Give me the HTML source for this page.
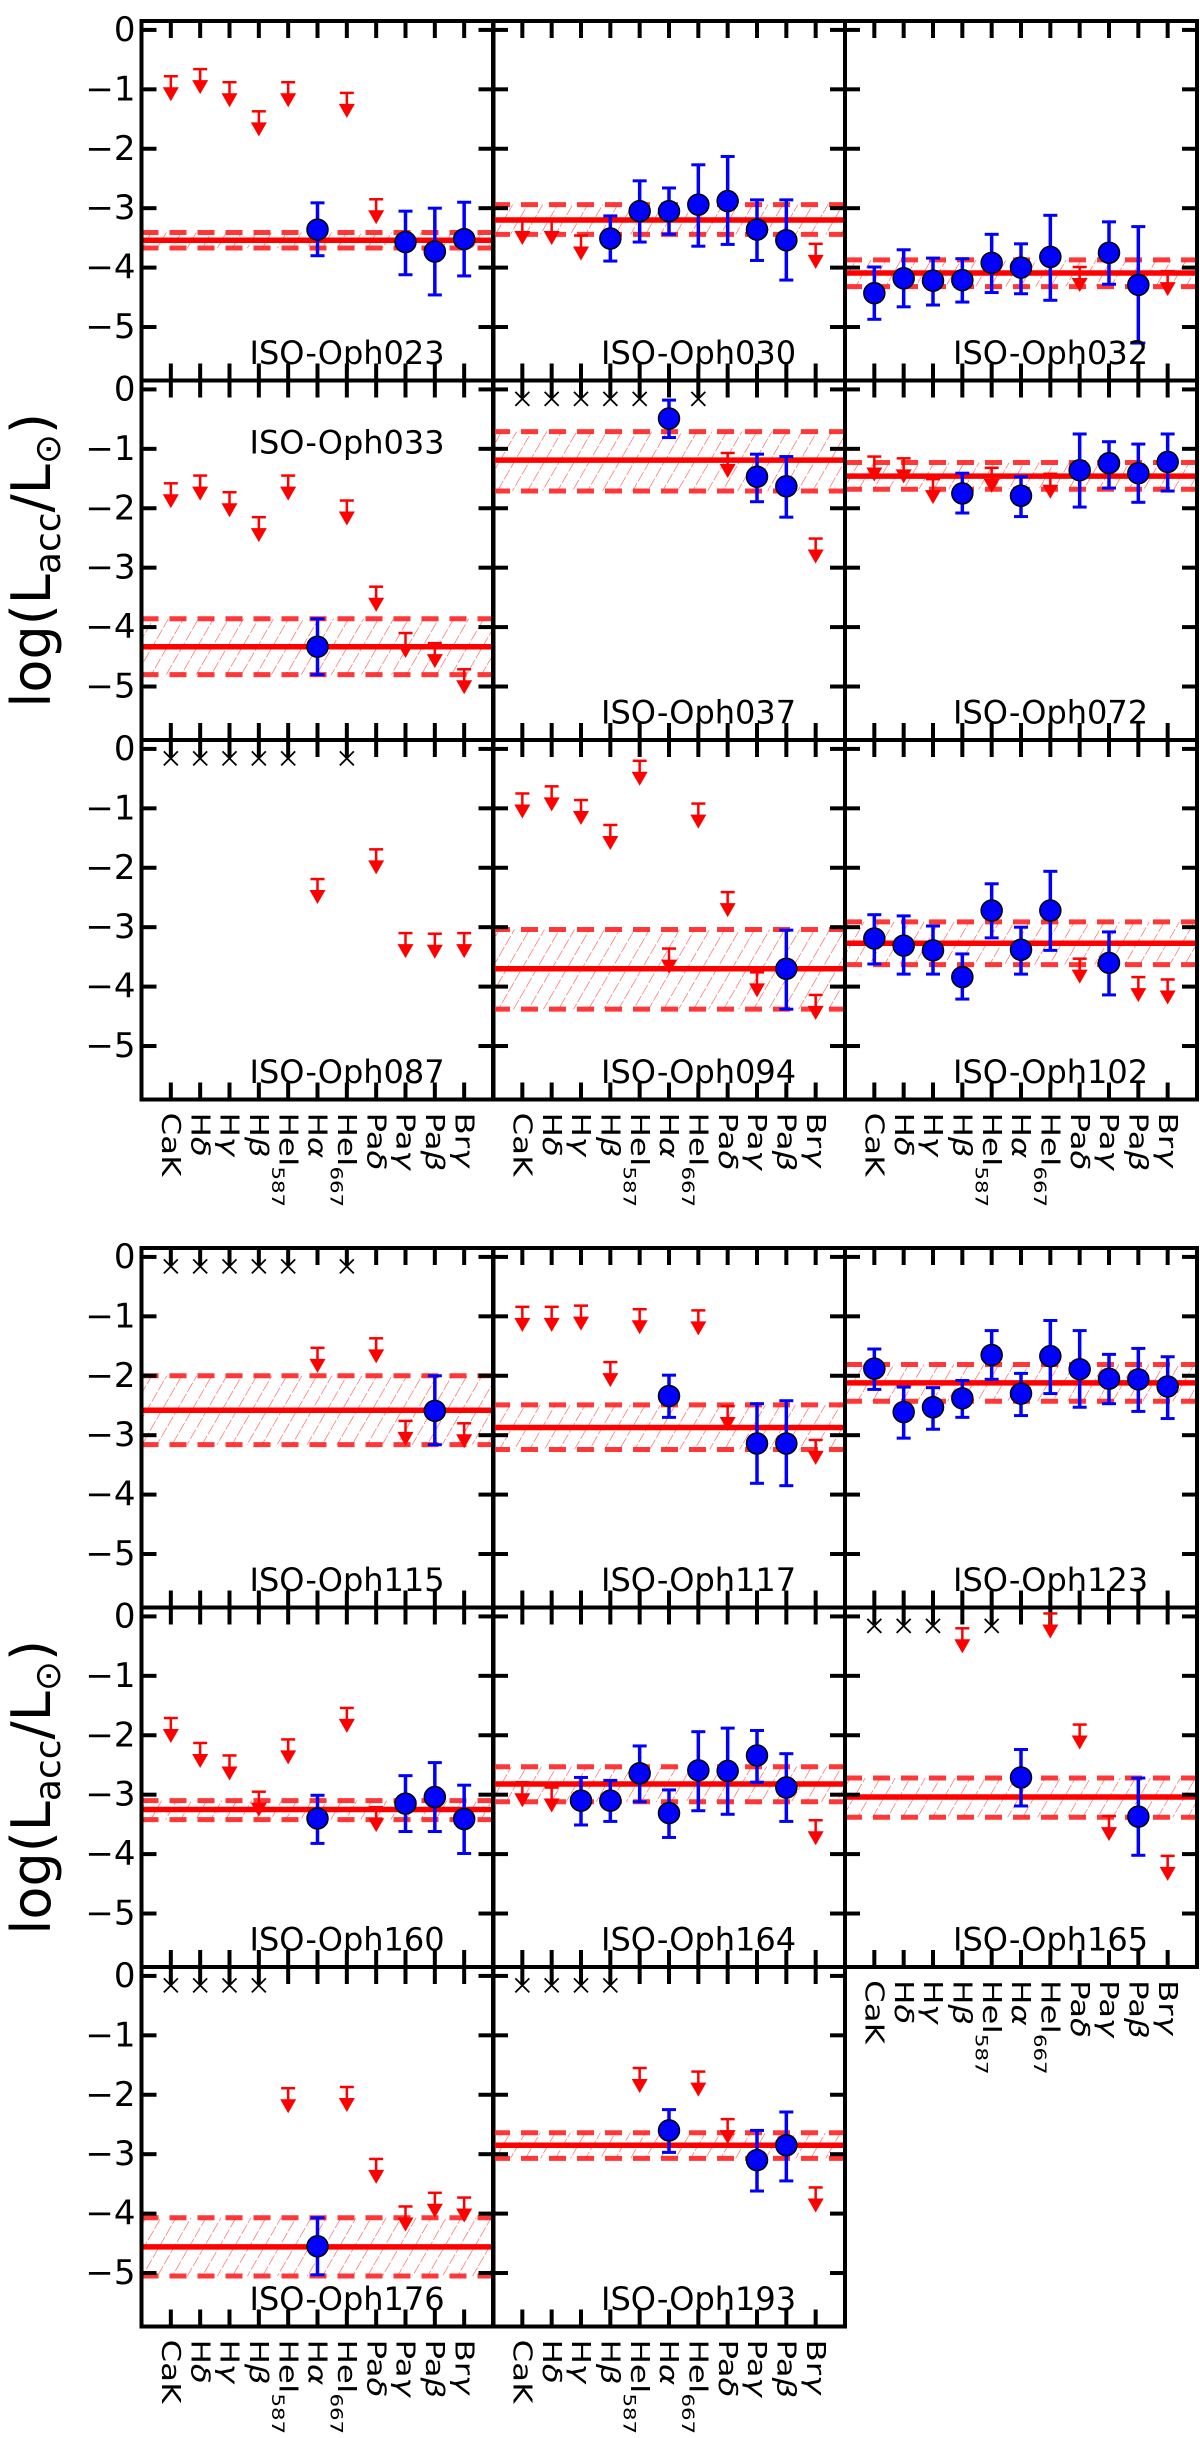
<!DOCTYPE html>
<html><head><meta charset="utf-8">
<style>
html,body{margin:0;padding:0;background:#fff;}
svg{display:block;font-family:"DejaVu Sans","Liberation Sans",sans-serif;}
</style></head>
<body>
<svg id="fig" width="1200" height="2438" viewBox="0 0 1200 2438" xmlns="http://www.w3.org/2000/svg">
<defs>
<pattern id="hatch" patternUnits="userSpaceOnUse" width="13" height="13" patternTransform="rotate(30)">
<line x1="0" y1="0" x2="0" y2="13" stroke="#ff2020" stroke-width="1.1" stroke-dasharray="7,2" opacity="0.85"/>
</pattern>
</defs>
</svg>
<script>
// ---- data ----
const categories = ["CaK","Hδ","Hγ","Hβ","HeI587","Hα","HeI667","Paδ","Paγ","Paβ","Brγ"];
const panelNames = ["ISO-Oph023","ISO-Oph030","ISO-Oph032","ISO-Oph033","ISO-Oph037","ISO-Oph072","ISO-Oph087","ISO-Oph094","ISO-Oph102","ISO-Oph115","ISO-Oph117","ISO-Oph123","ISO-Oph160","ISO-Oph164","ISO-Oph165","ISO-Oph176","ISO-Oph193"];
// point types per panel: d = detection, u = upper limit, x = cross (no data)
const pointTypes = [
 "uuuuuduuddd","uuudddddddu","ddddddduddu","uuuuuduuuuu","xxxxxdxuddu","uuudududddd",
 "xxxxxuxuuuu","uuuuuuuuudu","ddddddduduu","xxxxxuxuudu","uuuuuduuddu","ddddddddddd",
 "uuuuuduuddd","uuddddddddu","xxxuxduuudu","xxxxuduuuuu","xxxxuduuddu"
];
const pointValues = [
 [-0.78,-0.66,-0.88,-1.37,-0.88,-3.36,-1.06,-2.85,-3.57,-3.73,-3.52],
 [-3.2,-3.2,-3.46,-3.51,-3.05,-3.05,-2.94,-2.88,-3.36,-3.54,-3.6],
 [-4.43,-4.18,-4.22,-4.21,-3.92,-4.0,-3.82,-3.99,-3.75,-4.29,-4.06],
 [-1.58,-1.45,-1.73,-2.15,-1.45,-4.33,-1.87,-3.32,-4.1,-4.27,-4.71],
 [-0.16,-0.16,-0.16,-0.16,-0.16,-0.49,-0.16,-1.07,-1.47,-1.63,-2.51],
 [-1.13,-1.16,-1.51,-1.75,-1.32,-1.79,-1.42,-1.36,-1.24,-1.41,-1.22],
 [-0.16,-0.16,-0.16,-0.16,-0.16,-2.19,-0.16,-1.69,-3.1,-3.11,-3.1],
 [-0.75,-0.63,-0.86,-1.28,-0.2,-3.36,-0.92,-2.41,-3.76,-3.7,-4.14],
 [-3.19,-3.31,-3.39,-3.84,-2.72,-3.38,-2.72,-3.53,-3.6,-3.84,-3.88],
 [-0.16,-0.16,-0.16,-0.16,-0.16,-1.53,-0.16,-1.37,-2.76,-2.59,-2.8],
 [-0.84,-0.84,-0.82,-1.77,-0.88,-2.34,-0.9,-2.51,-3.14,-3.14,-3.08],
 [-1.88,-2.61,-2.53,-2.38,-1.65,-2.3,-1.67,-1.89,-2.05,-2.06,-2.18],
 [-1.71,-2.13,-2.34,-2.95,-2.07,-3.4,-1.54,-3.21,-3.15,-3.04,-3.41],
 [-2.79,-2.88,-3.1,-3.1,-2.64,-3.31,-2.59,-2.6,-2.34,-2.88,-3.43],
 [-0.16,-0.16,-0.16,-0.2,-0.16,-2.71,0.05,-1.82,-3.36,-3.37,-4.03],
 [-0.16,-0.16,-0.16,-0.16,-1.89,-4.55,-1.87,-3.08,-3.88,-3.65,-3.73],
 [-0.16,-0.16,-0.16,-0.16,-1.55,-2.6,-1.61,-2.41,-3.1,-2.85,-3.56]
];
const errUpper = [
 [0,0,0,0,0,-2.91,0,0,-3.05,-3.0,-2.9],
 [0,0,0,-3.13,-2.54,-2.66,-2.27,-2.13,-2.86,-2.86,0],
 [-3.99,-3.7,-3.84,-3.85,-3.44,-3.6,-3.12,0,-3.23,-3.31,0],
 [0,0,0,0,0,-3.86,0,0,0,0,0],
 [0,0,0,0,0,-0.18,0,0,-1.09,-1.13,0],
 [0,0,0,-1.41,0,-1.47,0,-0.75,-0.88,-0.92,-0.75],
 [0,0,0,0,0,0,0,0,0,0,0],
 [0,0,0,0,0,0,0,0,0,-3.05,0],
 [-2.79,-2.81,-2.98,-3.45,-2.27,-3.0,-2.06,0,-3.08,0,0],
 [0,0,0,0,0,0,0,0,0,-2.0,0],
 [0,0,0,0,0,-1.99,0,0,-2.47,-2.42,0],
 [-1.55,-2.19,-2.2,-2.08,-1.24,-1.96,-1.07,-1.24,-1.64,-1.54,-1.68],
 [0,0,0,0,0,-3.01,0,0,-2.68,-2.46,-2.84],
 [0,0,-2.71,-2.76,-2.18,-2.92,-1.94,-1.88,-1.92,-2.31,0],
 [0,0,0,0,0,-2.24,0,0,0,-2.72,0],
 [0,0,0,0,0,-4.07,0,0,0,0,0],
 [0,0,0,0,0,-2.25,0,0,-2.6,-2.29,0]
];
const errLower = [
 [0,0,0,0,0,-3.8,0,0,-4.12,-4.46,-4.14],
 [0,0,0,-3.89,-3.57,-3.44,-3.64,-3.61,-3.88,-4.21,0],
 [-4.87,-4.66,-4.63,-4.58,-4.42,-4.44,-4.55,0,-4.28,-5.27,0],
 [0,0,0,0,0,-4.8,0,0,0,0,0],
 [0,0,0,0,0,-0.81,0,0,-1.89,-2.15,0],
 [0,0,0,-2.08,0,-2.14,0,-1.98,-1.66,-1.9,-1.71],
 [0,0,0,0,0,0,0,0,0,0,0],
 [0,0,0,0,0,0,0,0,0,-4.38,0],
 [-3.62,-3.79,-3.79,-4.21,-3.18,-3.79,-3.39,0,-4.14,0,0],
 [0,0,0,0,0,0,0,0,0,-3.16,0],
 [0,0,0,0,0,-2.7,0,0,-3.81,-3.85,0],
 [-2.23,-3.05,-2.9,-2.7,-2.06,-2.67,-2.3,-2.53,-2.47,-2.6,-2.72],
 [0,0,0,0,0,-3.82,0,0,-3.62,-3.62,-3.99],
 [0,0,-3.51,-3.45,-3.12,-3.72,-3.27,-3.33,-2.79,-3.45,0],
 [0,0,0,0,0,-3.19,0,0,0,-4.02,0],
 [0,0,0,0,0,-5.03,0,0,0,0,0],
 [0,0,0,0,0,-2.97,0,0,-3.62,-3.45,0]
];
const meanValues = [-3.54,-3.2,-4.09,-4.33,-1.19,-1.46,null,-3.7,-3.27,-2.58,-2.87,-2.12,-3.25,-2.82,-3.04,-4.56,-2.85];
const bandHigh   = [-3.41,-2.94,-3.87,-3.86,-0.71,-1.23,null,-3.04,-2.91,-2.0,-2.49,-1.81,-3.1,-2.53,-2.72,-4.07,-2.64];
const bandLow    = [-3.67,-3.44,-4.32,-4.8,-1.71,-1.68,null,-4.38,-3.63,-3.16,-3.24,-2.43,-3.42,-3.12,-3.38,-5.05,-3.07];
const yTickValues = [0,-1,-2,-3,-4,-5];
const yTickLabels = ["0","\u22121","\u22122","\u22123","\u22124","\u22125"];

// ---- layout ----
const NS = "http://www.w3.org/2000/svg";
const svg = document.getElementById("fig");
const colLeft = [141.5, 493, 845];
const PW = 352, PH = 359.5;
const groupTops = [[21, 380.5, 740], [1248, 1607.5, 1967]];
const YMAX = 0.15, YMIN = -5.9, XMIN = -1, XMAX = 11;
const RED = "#ff0000", BLUE = "#0000ff";

function mk(tag, attrs, parent) {
  const e = document.createElementNS(NS, tag);
  for (const k in attrs) e.setAttribute(k, attrs[k]);
  (parent || svg).appendChild(e);
  return e;
}

function drawPanel(p, left, top, showYLabels) {
  const g = mk("g", {});
  
  
  const xs = i => left + (i - XMIN) / (XMAX - XMIN) * PW;
  const ys = v => top + (YMAX - v) / (YMAX - YMIN) * PH;
  const right = left + PW, bottom = top + PH;
  const types = pointTypes[p];

  if (meanValues[p] !== null) {
    const band = mk("rect", {x: left, y: ys(bandHigh[p]), width: PW, height: ys(bandLow[p]) - ys(bandHigh[p]), fill: "url(#hatch)"}, g);
    
    
    [bandHigh[p], bandLow[p]].forEach(v => {
      const l = mk("line", {x1: left, x2: right, y1: ys(v), y2: ys(v), stroke: "#ff2222", "stroke-width": 5, "stroke-dasharray": "17,11", opacity: 0.9}, g);
      
      
    });
    const m = mk("line", {x1: left, x2: right, y1: ys(meanValues[p]), y2: ys(meanValues[p]), stroke: RED, "stroke-width": 5.5}, g);
    
    
  }

  for (let i = 0; i <= 10; i++) {
    const x = xs(i);
    mk("line", {x1: x, x2: x, y1: top, y2: top + 17, stroke: "#000", "stroke-width": 4}, g);
    mk("line", {x1: x, x2: x, y1: bottom, y2: bottom - 17, stroke: "#000", "stroke-width": 4}, g);
  }
  yTickValues.forEach((v, k) => {
    const y = ys(v);
    mk("line", {x1: left, x2: left + 15, y1: y, y2: y, stroke: "#000", "stroke-width": 4}, g);
    mk("line", {x1: right, x2: right - 15, y1: y, y2: y, stroke: "#000", "stroke-width": 4}, g);
    if (showYLabels) {
      const t = mk("text", {x: left - 6, y: y, "text-anchor": "end", "dominant-baseline": "central", "font-size": 34}, g);
      t.textContent = yTickLabels[k];
      
      
    }
  });

  for (let i = 0; i < 11; i++) {
    const t = types[i], v = pointValues[p][i], x = xs(i), y = ys(v);
    if (t === "x") {
      const c = mk("path", {d: `M${x-7},${y-7}L${x+7},${y+7}M${x-7},${y+7}L${x+7},${y-7}`, stroke: "#000", "stroke-width": 1.8, fill: "none"}, g);
      
      
    } else if (t === "u") {
      const a = mk("g", {}, g);
      
      
      mk("line", {x1: x - 7, x2: x + 7, y1: y, y2: y, stroke: RED, "stroke-width": 2.5}, a);
      mk("line", {x1: x, x2: x, y1: y, y2: y + 13, stroke: RED, "stroke-width": 2.5}, a);
      mk("path", {d: `M${x-8},${y+11}L${x+8},${y+11}L${x},${y+25}Z`, fill: RED}, a);
    }
  }
  for (let i = 0; i < 11; i++) {
    if (types[i] !== "d") continue;
    const v = pointValues[p][i], x = xs(i), y = ys(v);
    const e = mk("g", {}, g);
    
    
    const yu = ys(errUpper[p][i]), yl = ys(errLower[p][i]);
    mk("line", {x1: x, x2: x, y1: yu, y2: yl, stroke: BLUE, "stroke-width": 3.5}, e);
    mk("line", {x1: x - 7, x2: x + 7, y1: yu, y2: yu, stroke: BLUE, "stroke-width": 3}, e);
    mk("line", {x1: x - 7, x2: x + 7, y1: yl, y2: yl, stroke: BLUE, "stroke-width": 3}, e);
    mk("ellipse", {cx: x, cy: y, rx: 10.5, ry: 10.5, fill: BLUE, stroke: "#000", "stroke-width": 1.5}, e);
  }

  const f = mk("rect", {x: left, y: top, width: PW, height: PH, fill: "none", stroke: "#000", "stroke-width": 4}, g);
  
  

  const labelY = panelNames[p] === "ISO-Oph033" ? top + 73 : top + 343;
  const nl = mk("text", {x: left + 108, y: labelY, "font-size": 32}, g);
  nl.textContent = panelNames[p];
  
  
  return {xs, bottom};
}

function drawXLabels(xs, bottom) {
  const g = mk("g", {});
  
  
  categories.forEach((c, i) => {
    const t = mk("text", {x: 0, y: 0, "font-size": 26, "dominant-baseline": "central",
      transform: `translate(${xs(i)},${bottom + 13}) rotate(90) scale(1.25,1)`}, g);
    
    
    let base = c, sub = "", greek = "";
    if (c.startsWith("HeI")) { base = "HeI"; sub = c.slice(3); }
    else if (/[αβγδ]$/.test(c)) { base = c.slice(0, -1); greek = c.slice(-1); }
    const s1 = document.createElementNS(NS, "tspan"); s1.textContent = base; t.appendChild(s1);
    if (greek) { const s2 = document.createElementNS(NS, "tspan"); s2.setAttribute("font-style", "italic"); s2.textContent = greek; t.appendChild(s2); }
    if (sub) { const s3 = document.createElementNS(NS, "tspan"); s3.setAttribute("font-size", "17"); s3.setAttribute("dy", "10"); s3.textContent = sub; t.appendChild(s3); }
  });
}

let p = 0;
for (let gi = 0; gi < 2; gi++) {
  for (let r = 0; r < 3; r++) {
    for (let c = 0; c < 3; c++) {
      if (p >= panelNames.length) break;
      const res = drawPanel(p, colLeft[c], groupTops[gi][r], c === 0);
      const isBottom = (gi === 0 && r === 2) || (gi === 1 && (r === 2 || (r === 1 && c === 2)));
      if (isBottom) drawXLabels(res.xs, res.bottom);
      p++;
    }
  }
}

[groupTops[0][1] + PH / 2, groupTops[1][1] + PH / 2].forEach(cy => {
  const t = mk("text", {x: 0, y: 0, "font-size": 54, "text-anchor": "middle", transform: `translate(50,${cy}) rotate(-90)`});
  
  
  t.innerHTML = 'log(L<tspan font-size="36" dy="10">acc</tspan><tspan dy="-10">/L</tspan><tspan font-size="36" dy="10">\u2299</tspan><tspan dy="-10">)</tspan>';
});
</script>
</body></html>
